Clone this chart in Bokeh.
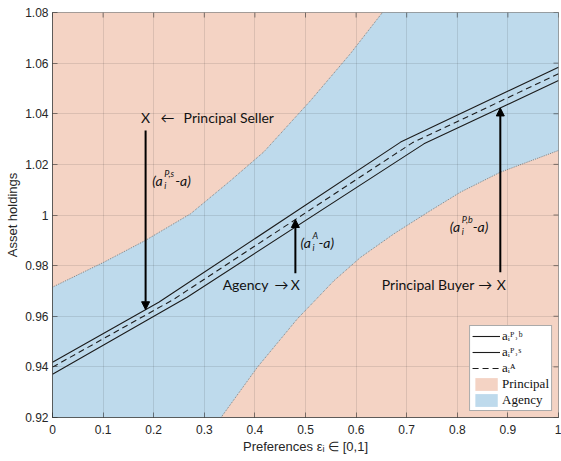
import numpy as np
from bokeh.plotting import figure
from bokeh.models import (Range1d, FixedTicker, Label, Arrow,
                          NormalHead, Legend, LegendItem)
from bokeh.embed import file_html
from bokeh.resources import INLINE

# ---------------- data ----------------
eps_seller = [0.0, 0.21, 0.688, 1.0]
a_seller = [0.9418, 0.9655, 1.0288, 1.0584]
eps_agency = [0.0, 0.238, 0.711, 1.0]
a_agency = [0.9399, 0.9665, 1.0285, 1.0558]
eps_buyer = [0.0, 0.266, 0.734, 1.0]
a_buyer = [0.9371, 0.9675, 1.0281, 1.0531]

eps_upper = [0.0, 0.102, 0.184, 0.273, 0.352, 0.418, 0.51, 0.589, 0.652]
bound_upper = [0.9715, 0.9814, 0.990, 1.0005, 1.0136, 1.025, 1.0452, 1.0638, 1.08]
eps_lower = [0.333, 0.405, 0.484, 0.556, 0.609, 0.675, 0.741, 0.806, 0.885, 1.0]
bound_lower = [0.92, 0.9399, 0.959, 0.974, 0.9833, 0.9926, 1.001, 1.009, 1.0169, 1.0255]

x_ticks = [0.0, 0.1, 0.2, 0.3, 0.4, 0.5, 0.6, 0.7, 0.8, 0.9, 1.0]
x_tick_labels = ["0", "0.1", "0.2", "0.3", "0.4", "0.5", "0.6", "0.7", "0.8", "0.9", "1"]
y_ticks = [0.92, 0.94, 0.96, 0.98, 1.0, 1.02, 1.04, 1.06, 1.08]
y_tick_labels = ["0.92", "0.94", "0.96", "0.98", "1", "1.02", "1.04", "1.06", "1.08"]

# annotation arrows: x position, start level, target series
arrow_eps = [0.184, 0.480, 0.885]
arrow_from = [1.0334, 0.977, 0.9774]

x_min, x_max = 0.0, 1.0
y_min, y_max = 0.92, 1.08

PINK = "#f4d3c4"
BLUE = "#bedaec"
INK = "#262626"
FRAME_W, FRAME_H = 506, 405
TICK_PX = 5

p = figure(frame_width=FRAME_W, frame_height=FRAME_H,
           x_range=Range1d(x_min, x_max), y_range=Range1d(y_min, y_max),
           output_backend="svg", toolbar_location=None,
           min_border_left=52, min_border_right=3, min_border_top=12,
           min_border_bottom=44, background_fill_color="white",
           border_fill_color="white")
p.outline_line_color = INK
p.outline_line_alpha = 0.55

# ---------------- regions ----------------
pink_xs = [eps_upper + [x_min], eps_lower + [x_max]]
pink_ys = [bound_upper + [y_max], bound_lower + [y_min]]
r_pink = p.patches(pink_xs, pink_ys, fill_color=PINK, line_color=None, level="image")

blue_x = eps_upper + [x_max] + eps_lower[::-1] + [x_min]
blue_y = bound_upper + [y_max] + bound_lower[::-1] + [y_min]
r_blue = p.patch(blue_x, blue_y, fill_color=BLUE, line_color=None, level="image")

p.line(eps_upper, bound_upper, line_color="#7d7d7d", line_width=1, line_dash="1 1")
p.line(eps_lower, bound_lower, line_color="#7d7d7d", line_width=1, line_dash="1 1")

# ---------------- series ----------------
LINE = "#1c1c1c"
r_buyer = p.line(eps_buyer, a_buyer, line_color=LINE, line_width=1.1)
r_seller = p.line(eps_seller, a_seller, line_color=LINE, line_width=1.1)
r_agency = p.line(eps_agency, a_agency, line_color=LINE, line_width=1.1, line_dash="6 4")

# ---------------- grid / axes ----------------
for g in (p.xgrid[0], p.ygrid[0]):
    g.grid_line_color = INK
    g.grid_line_alpha = 0.12
    g.level = "underlay"
p.xgrid[0].ticker = FixedTicker(ticks=x_ticks)
p.ygrid[0].ticker = FixedTicker(ticks=y_ticks)

p.xaxis[0].ticker = FixedTicker(ticks=x_ticks)
p.yaxis[0].ticker = FixedTicker(ticks=y_ticks)
p.xaxis[0].major_label_overrides = dict(zip(x_ticks, x_tick_labels))
p.yaxis[0].major_label_overrides = dict(zip(y_ticks, y_tick_labels))

for ax in (p.xaxis[0], p.yaxis[0]):
    ax.major_tick_in = TICK_PX
    ax.major_tick_out = 0
    ax.minor_tick_line_color = None
    ax.axis_line_color = INK
    ax.axis_line_alpha = 0.55
    ax.major_tick_line_color = INK
    ax.major_tick_line_alpha = 0.55
    ax.major_label_text_font = "Liberation Sans"
    ax.major_label_text_font_size = "12px"
    ax.major_label_text_color = INK
    ax.axis_label_text_font = "Liberation Sans"
    ax.axis_label_text_font_size = "13px"
    ax.axis_label_text_font_style = "normal"
    ax.axis_label_text_color = INK
p.xaxis[0].major_label_standoff = 7
p.yaxis[0].major_label_standoff = 4
p.xaxis[0].axis_label = "Preferences \u03b5\u1d62 \u2208 [0,1]"
p.xaxis[0].axis_label_standoff = 2
p.yaxis[0].axis_label = "Asset holdings"
p.yaxis[0].axis_label_standoff = 2

# inward ticks on the top and right frame edges (MATLAB box style)
dy_tick = (y_max - y_min) * TICK_PX / FRAME_H
dx_tick = (x_max - x_min) * TICK_PX / FRAME_W
p.segment(x0=x_ticks, y0=[y_max] * len(x_ticks), x1=x_ticks,
          y1=[y_max - dy_tick] * len(x_ticks), line_color=INK, line_alpha=0.55)
p.segment(x0=[x_max] * len(y_ticks), y0=y_ticks, x1=[x_max - dx_tick] * len(y_ticks),
          y1=y_ticks, line_color=INK, line_alpha=0.55)

# ---------------- arrows ----------------
targets = [a_seller, a_agency, a_buyer]
target_eps = [eps_seller, eps_agency, eps_buyer]
for xe, y0, ty, tx in zip(arrow_eps, arrow_from, targets, target_eps):
    y1 = float(np.interp(xe, tx, ty))
    p.add_layout(Arrow(end=NormalHead(size=8, fill_color="black", line_color="black", line_width=1),
                       x_start=xe, y_start=y0, x_end=xe, y_end=y1,
                       line_color="black", line_width=2))

# ---------------- text annotations ----------------
FONT = "Lato"


def lab(x, y, text, dx=0, dy=0, size="14px", align="left", style="normal"):
    p.add_layout(Label(x=x, y=y, x_offset=dx, y_offset=dy, text=text,
                       text_font=FONT, text_font_size=size, text_align=align,
                       text_baseline="middle", text_color="#111111",
                       text_font_style=style))


# "X <- Principal Seller"
lab(0.184, 1.0384, "X", align="center")
lab(0.184, 1.0384, "\u2190", dx=22, align="center")
lab(0.184, 1.0384, "Principal Seller", dx=38)
# "Agency -> X"
lab(0.480, 0.9724, "X", align="center")
lab(0.480, 0.9724, "\u2192", dx=-14, align="center")
lab(0.480, 0.9724, "Agency", dx=-27, align="right")
# "Principal Buyer -> X"
lab(0.887, 0.9726, "X", align="center")
lab(0.887, 0.9726, "\u2192", dx=-16, align="center")
lab(0.887, 0.9726, "Principal Buyer", dx=-27, align="right")

SUP_W = {"P,s": 11, "P,b": 11, "A": 6}


def delta_label(x, y, sup):
    lab(x, y, "(a", style="italic")
    lab(x, y, "i", dx=12, dy=-5, size="9px", style="italic")
    lab(x, y, sup, dx=12, dy=7, size="9px", style="italic")
    lab(x, y, "-a)", dx=12 + SUP_W[sup], style="italic")


delta_label(0.197, 1.0136, "P,s")
delta_label(0.490, 0.9893, "A")
delta_label(0.785, 0.9955, "P,b")

# ---------------- legend ----------------
legend = Legend(items=[
    LegendItem(label="a\u1d62\u1d3e\u02d2\u1d47", renderers=[r_buyer]),
    LegendItem(label="a\u1d62\u1d3e\u02d2\u02e2", renderers=[r_seller]),
    LegendItem(label="a\u1d62\u1d2c", renderers=[r_agency]),
    LegendItem(label="Principal", renderers=[r_pink]),
    LegendItem(label="Agency", renderers=[r_blue]),
], location="bottom_right")
legend.margin = 6
legend.padding = 2
legend.spacing = 0
legend.glyph_width = 28
legend.glyph_height = 16
legend.label_height = 16
legend.label_standoff = 2
legend.label_text_font = "Liberation Serif"
legend.label_text_font_size = "13px"
legend.label_text_color = "#111111"
legend.border_line_color = "#555555"
legend.border_line_width = 1
legend.background_fill_color = "white"
legend.background_fill_alpha = 1.0
p.add_layout(legend)

open("out.html", "w").write(file_html(p, INLINE))
